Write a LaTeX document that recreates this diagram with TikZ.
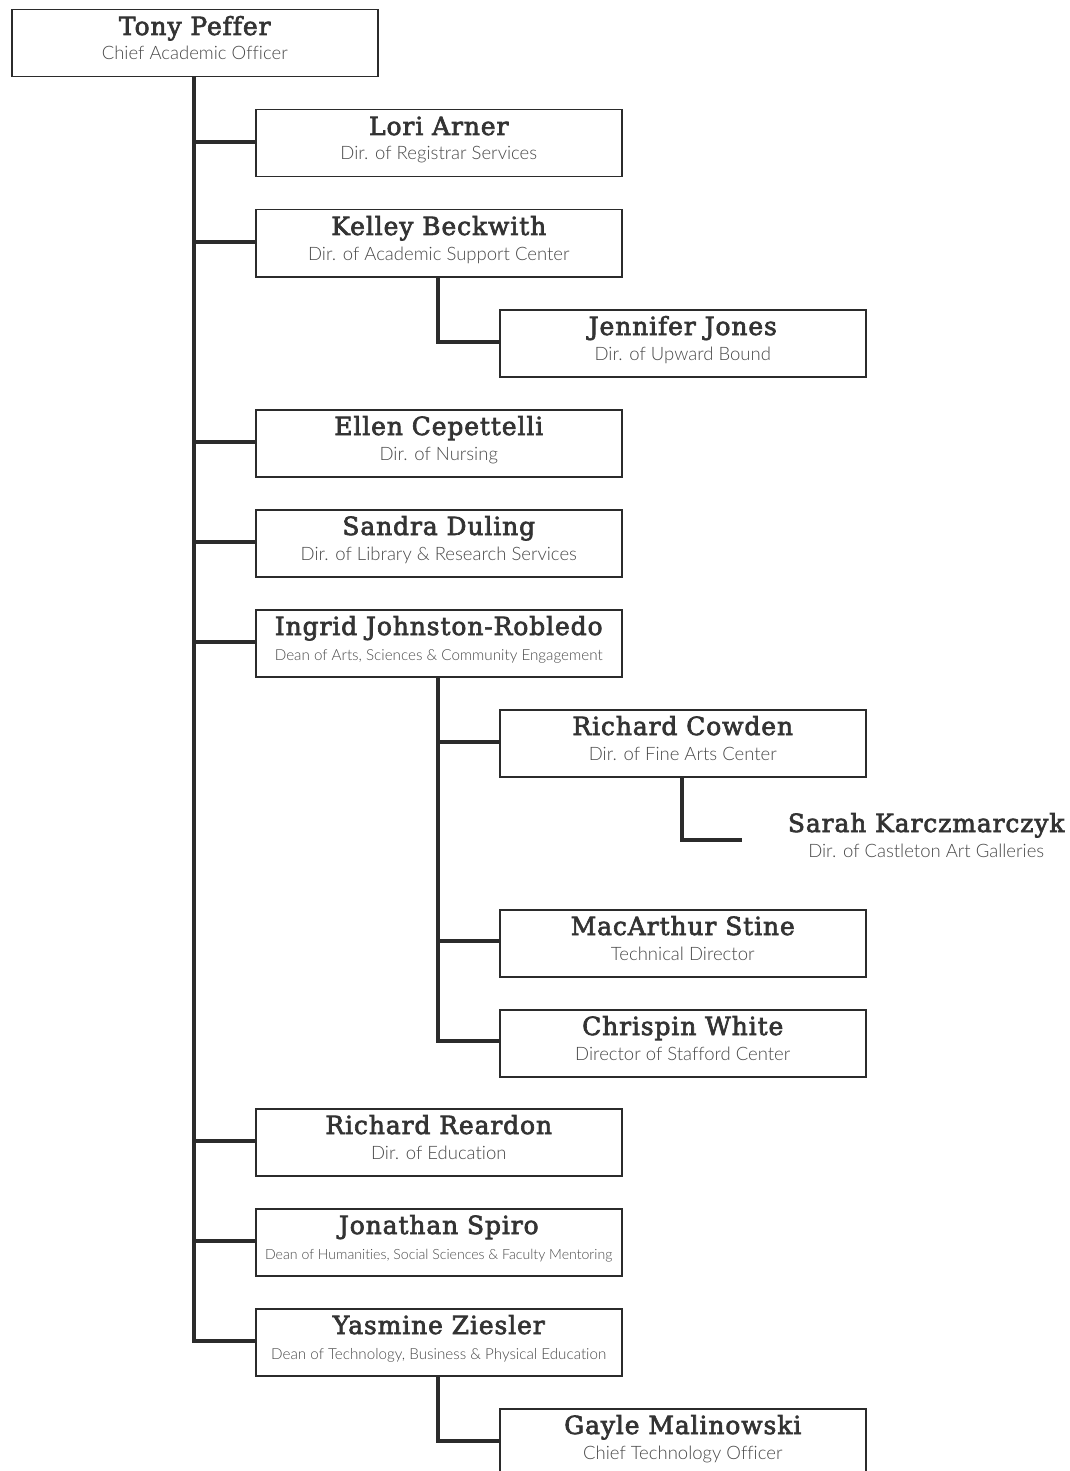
\documentclass[tikz,border=0pt]{standalone}
\usepackage{fontspec}
\usetikzlibrary{calc}
\newfontfamily\namefont{DejaVu Serif}[FakeBold=2.6, LetterSpace=3.5, RawFeature=-liga]
\newfontfamily\rolefont{Lato}[UprightFont=* Light, RawFeature=-liga]
\definecolor{ink}{HTML}{2B2B2B}
\definecolor{namegray}{HTML}{333333}
\definecolor{rolegray}{HTML}{4A4A4A}
\tikzset{
  obox/.style={draw=ink, line width=1.5pt, fill=white, rectangle,
    minimum width=366pt, minimum height=67pt, inner sep=0pt},
  ghost/.style={rectangle, minimum width=366pt, minimum height=67pt, inner sep=0pt},
  nm/.style={text=namegray, font=\namefont\fontsize{25}{28}\selectfont, inner sep=0pt},
  tt/.style={text=rolegray, font=\rolefont\fontsize{18.5}{21}\selectfont, inner sep=0pt},
  ttsmall/.style={text=rolegray, font=\rolefont\fontsize{15.2}{17}\selectfont, inner sep=0pt},
  tttiny/.style={text=rolegray, font=\rolefont\fontsize{14.1}{16}\selectfont, inner sep=0pt},
  conn/.style={draw=ink, line width=4pt}
}
% #1 node name, #2 left, #3 top, #4 person, #5 role, #6 role style, #7 box style
\newcommand\orgunit[7]{%
  \node[#7, anchor=north west] (#1) at (#2,#3) {};
  \node[nm, anchor=base] (#1-name) at ($(#1.north)+(0,26)$) {#4};
  \node[#6, anchor=base] (#1-role) at ($(#1.north)+(0,51)$) {#5};
}
\begin{document}
\begin{tikzpicture}[x=1pt,y=-1pt]
\useasboundingbox[fill=white] (0,0) rectangle (1069,1471);

% connectors first, boxes drawn over them
\coordinate (trunk) at (194,76);
\coordinate (kb) at (438,275);
\coordinate (ij) at (438,675);
\coordinate (rc) at (682,775);
\coordinate (yz) at (438,1374);

\draw[conn] (trunk) -- (194,1341) -- (255,1341);
\foreach \y in {142,242,442,542,642,1141,1241} \draw[conn] (194,\y) -- (255,\y);
\draw[conn] (kb) -- (438,342) -- (499,342);
\draw[conn] (ij) -- (438,1041) -- (499,1041);
\foreach \y in {742,941} \draw[conn] (438,\y) -- (499,\y);
\draw[conn] (rc) -- (682,840) -- (742,840);
\draw[conn] (yz) -- (438,1441) -- (499,1441);

\orgunit{tony}{11}{9}{Tony Peffer}{Chief Academic Officer}{tt}{obox}
\orgunit{lori}{255}{109}{Lori Arner}{Dir. of Registrar Services}{tt}{obox}
\orgunit{kelley}{255}{209}{Kelley Beckwith}{Dir. of Academic Support Center}{tt}{obox}
\orgunit{jennifer}{499}{309}{Jennifer Jones}{Dir. of Upward Bound}{tt}{obox}
\orgunit{ellen}{255}{409}{Ellen Cepettelli}{Dir. of Nursing}{tt}{obox}
\orgunit{sandra}{255}{509}{Sandra Duling}{Dir. of Library \& Research Services}{tt}{obox}
\orgunit{ingrid}{255}{609}{Ingrid Johnston-Robledo}{Dean of Arts, Sciences \& Community Engagement}{ttsmall}{obox}
\orgunit{cowden}{499}{709}{Richard Cowden}{Dir. of Fine Arts Center}{tt}{obox}
\orgunit{sarah}{743}{806}{Sarah Karczmarczyk}{Dir. of Castleton Art Galleries}{tt}{ghost}
\orgunit{stine}{499}{909}{MacArthur Stine}{Technical Director}{tt}{obox}
\orgunit{white}{499}{1009}{Chrispin White}{Director of Stafford Center}{tt}{obox}
\orgunit{reardon}{255}{1108}{Richard Reardon}{Dir. of Education}{tt}{obox}
\orgunit{spiro}{255}{1208}{Jonathan Spiro}{Dean of Humanities, Social Sciences \& Faculty Mentoring}{tttiny}{obox}
\orgunit{ziesler}{255}{1308}{Yasmine Ziesler}{Dean of Technology, Business \& Physical Education}{ttsmall}{obox}
\orgunit{gayle}{499}{1408}{Gayle Malinowski}{Chief Technology Officer}{tt}{obox}
\end{tikzpicture}
\end{document}
